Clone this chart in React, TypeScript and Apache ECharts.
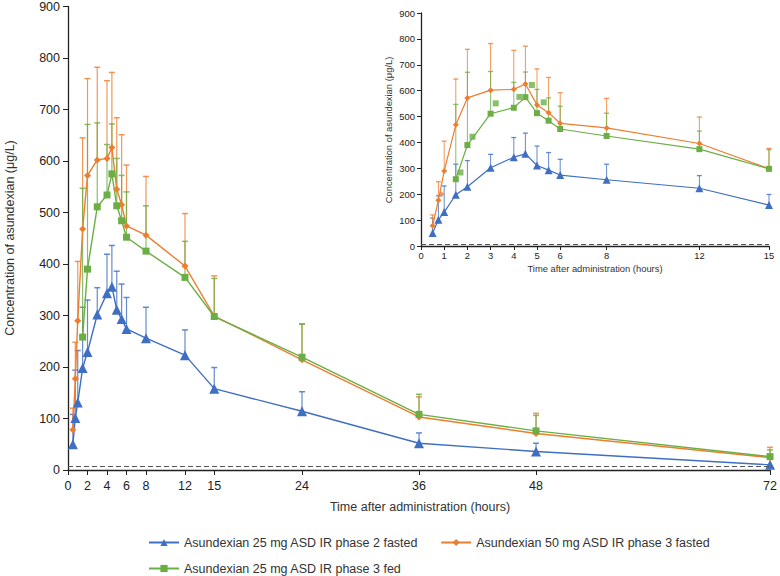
import React, { useEffect, useRef } from "react";
import * as echarts from "echarts";

const FONT = '"Liberation Sans", Arial, Helvetica, sans-serif';

const BLUE_NAME = "Asundexian 25 mg ASD IR phase 2 fasted";
const ORANGE_NAME = "Asundexian 50 mg ASD IR phase 3 fasted";
const GREEN_NAME = "Asundexian 25 mg ASD IR phase 3 fed";

const times = [0.5, 0.75, 1, 1.5, 2, 3, 4, 4.5, 5, 5.5, 6, 8, 12, 15, 24, 36, 48, 72];
const blueMean = [50, 101, 131, 198, 229, 302, 343, 356, 311, 293, 274, 256, 223, 158, 114, 52, 36, 10];
const blueUpper = [108, 194, 232, 316, 330, 354, 419, 436, 386, 361, 335, 316, 272, 199, 152, 72, 52, null];
const orangeMean = [78, 177, 290, 468, 572, 602, 605, 626, 545, 515, 474, 456, 396, 299, 214, 103, 71, 24];
const orangeUpper = [120, 248, 405, 645, 760, 782, 756, 772, 684, 651, 592, 570, 498, 377, 284, 142, 110, 44];

const greenTimes = [1.5, 2, 3, 4, 4.5, 5, 5.5, 6, 8, 12, 15, 24, 36, 48, 72];
const greenMean = [258, 390, 511, 534, 575, 513, 484, 452, 425, 374, 298, 219, 108, 76, 26];
const greenUpper = [547, 671, 674, 632, 672, 605, 572, 540, 513, 444, 372, 283, 147, 106, 39];

// stray markers visible only in the inset
const greenExtraTimes = [1.7, 2.22, 3.22, 4.24, 4.78, 5.29];
const greenExtraValues = [284, 422, 551, 576, 622, 555];
const orangeExtraTimes = [0.88];
const orangeExtraValues = [200];

const LLOQ = 7;

const mainXTicks = [0, 2, 4, 6, 8, 12, 15, 24, 36, 48, 72];
const insetXTicks = [0, 1, 2, 3, 4, 5, 6, 8, 12, 15];

const C_BLUE = "#3F6FC2";
const C_ORANGE = "#EE7D2E";
const C_GREEN = "#6BAE45";

function pairs(ts: number[], vs: (number | null)[], maxT: number) {
  const out: any[] = [];
  ts.forEach((t, i) => {
    if (t <= maxT && vs[i] != null) out.push([t, vs[i]]);
  });
  return out;
}
function triples(ts: number[], m: number[], u: (number | null)[], maxT: number) {
  const out: any[] = [];
  ts.forEach((t, i) => {
    if (t <= maxT && u[i] != null) out.push([t, m[i], u[i]]);
  });
  return out;
}

function errSeries(name: string, color: string, data: any[], idx: number, cap: number, lw: number) {
  return {
    type: "custom",
    name: name + " err",
    xAxisIndex: idx,
    yAxisIndex: idx,
    z: 2,
    silent: true,
    encode: { x: 0, y: [1, 2] },
    data,
    renderItem: (params: any, api: any) => {
      const p0 = api.coord([api.value(0), api.value(1)]);
      const p1 = api.coord([api.value(0), api.value(2)]);
      return {
        type: "group",
        children: [
          { type: "line", shape: { x1: p0[0], y1: p0[1], x2: p1[0], y2: p1[1] }, style: { stroke: color, lineWidth: lw, opacity: 0.8 } },
          { type: "line", shape: { x1: p1[0] - cap, y1: p1[1], x2: p1[0] + cap, y2: p1[1] }, style: { stroke: color, lineWidth: lw + 0.3, opacity: 0.8 } },
        ],
      };
    },
  };
}

function lineSeries(name: string, color: string, symbol: string, size: number, data: any[], idx: number, lw: number, withLloq: boolean) {
  const s: any = {
    type: "line",
    name,
    xAxisIndex: idx,
    yAxisIndex: idx,
    z: 3,
    data,
    symbol,
    symbolSize: size,
    showAllSymbol: true,
    lineStyle: { color, width: lw },
    itemStyle: { color },
  };
  if (withLloq) {
    s.markLine = {
      silent: true,
      symbol: "none",
      label: { show: false },
      lineStyle: { type: [5, 3], color: "#555", width: 1.1 },
      data: [{ yAxis: LLOQ }],
    };
  }
  return s;
}

export default function App() {
  const ref = useRef<HTMLDivElement>(null);
  useEffect(() => {
    if (!ref.current) return;
    const chart = echarts.init(ref.current, undefined, { renderer: "svg" });

    const axisCommon = (fs: number) => ({
      axisLine: { show: true, lineStyle: { color: "#222", width: 1.3 } },
      splitLine: { show: false },
      axisLabel: { color: "#222", fontSize: fs, fontFamily: FONT },
    });

    const series: any[] = [];
    // main chart
    series.push(errSeries(BLUE_NAME, C_BLUE, triples(times, blueMean, blueUpper, 100), 0, 3, 1.2));
    series.push(errSeries(ORANGE_NAME, C_ORANGE, triples(times, orangeMean, orangeUpper, 100), 0, 3, 1.2));
    series.push(errSeries(GREEN_NAME, C_GREEN, triples(greenTimes, greenMean, greenUpper, 100), 0, 3, 1.2));
    series.push(lineSeries(BLUE_NAME, C_BLUE, "triangle", 10, pairs(times, blueMean, 100), 0, 1.4, true));
    series.push(lineSeries(ORANGE_NAME, C_ORANGE, "diamond", 7, pairs(times, orangeMean, 100), 0, 1.4, false));
    series.push(lineSeries(GREEN_NAME, C_GREEN, "rect", 7, pairs(greenTimes, greenMean, 100), 0, 1.4, false));
    // inset
    series.push(errSeries(BLUE_NAME, C_BLUE, triples(times, blueMean, blueUpper, 15), 1, 2.5, 1));
    series.push(errSeries(ORANGE_NAME, C_ORANGE, triples(times, orangeMean, orangeUpper, 15), 1, 2.5, 1));
    series.push(errSeries(GREEN_NAME, C_GREEN, triples(greenTimes, greenMean, greenUpper, 15), 1, 2.5, 1));
    series.push(lineSeries(BLUE_NAME, C_BLUE, "triangle", 8, pairs(times, blueMean, 15), 1, 1.2, true));
    series.push(lineSeries(ORANGE_NAME, C_ORANGE, "diamond", 6, pairs(times, orangeMean, 15), 1, 1.2, false));
    series.push(lineSeries(GREEN_NAME, C_GREEN, "rect", 6, pairs(greenTimes, greenMean, 15), 1, 1.2, false));
    series.push({
      type: "scatter", name: "fed-extra", xAxisIndex: 1, yAxisIndex: 1, z: 3,
      symbol: "rect", symbolSize: 6, itemStyle: { color: C_GREEN },
      data: pairs(greenExtraTimes, greenExtraValues, 15),
    });
    series.push({
      type: "scatter", name: "fasted-extra", xAxisIndex: 1, yAxisIndex: 1, z: 3,
      symbol: "diamond", symbolSize: 6, itemStyle: { color: C_ORANGE },
      data: pairs(orangeExtraTimes, orangeExtraValues, 15),
    });

    const legendText = { fontSize: 12.5, color: "#333", fontFamily: FONT };

    chart.setOption({
      animation: false,
      textStyle: { fontFamily: FONT },
      grid: [
        { left: 68, right: 8, top: 6, bottom: 106 },
        { left: 421, right: 11, top: 13, bottom: 330 },
      ],
      xAxis: [
        {
          gridIndex: 0, type: "value", min: 0, max: 72,
          ...axisCommon(12.5),
          axisTick: { show: true, customValues: mainXTicks, length: 5, lineStyle: { color: "#222" } },
          axisLabel: { color: "#222", fontSize: 12.5, fontFamily: FONT, customValues: mainXTicks, margin: 9 },
        },
        {
          gridIndex: 1, type: "value", min: 0, max: 15,
          ...axisCommon(9.4),
          axisTick: { show: true, customValues: insetXTicks, length: 4, lineStyle: { color: "#222" } },
          axisLabel: { color: "#222", fontSize: 9.4, fontFamily: FONT, customValues: insetXTicks, margin: 5 },
        },
      ],
      yAxis: [
        {
          gridIndex: 0, type: "value", min: 0, max: 900, interval: 100,
          ...axisCommon(12.5),
          axisTick: { show: true, length: 5, lineStyle: { color: "#222" } },
          axisLabel: { color: "#222", fontSize: 12.5, fontFamily: FONT, margin: 8 },
        },
        {
          gridIndex: 1, type: "value", min: 0, max: 900, interval: 100,
          ...axisCommon(9.4),
          axisTick: { show: true, length: 4, lineStyle: { color: "#222" } },
          axisLabel: { color: "#222", fontSize: 9.4, fontFamily: FONT, margin: 6 },
        },
      ],
      legend: [
        {
          data: [BLUE_NAME, ORANGE_NAME], left: 143, top: 531, orient: "horizontal",
          itemWidth: 30, itemHeight: 9, itemGap: 22, textStyle: legendText,
        },
        {
          data: [GREEN_NAME], left: 143, top: 557,
          itemWidth: 30, itemHeight: 9, textStyle: legendText,
        },
      ],
      graphic: [
        { type: "text", x: 10, y: 238, rotation: Math.PI / 2, style: { text: "Concentration of asundexian (μg/L)", fontSize: 12.5, fontFamily: FONT, fill: "#333", align: "center", verticalAlign: "middle" } },
        { type: "text", x: 420, y: 507, style: { text: "Time after administration (hours)", fontSize: 12.5, fontFamily: FONT, fill: "#333", align: "center", verticalAlign: "middle" } },
        { type: "text", x: 388, y: 130, rotation: Math.PI / 2, style: { text: "Concentration of asundexian (μg/L)", fontSize: 9.4, fontFamily: FONT, fill: "#333", align: "center", verticalAlign: "middle" } },
        { type: "text", x: 595, y: 268, style: { text: "Time after administration (hours)", fontSize: 9.4, fontFamily: FONT, fill: "#333", align: "center", verticalAlign: "middle" } },
      ],
      series,
    });
    return () => chart.dispose();
  }, []);
  return <div ref={ref} style={{ width: 780, height: 576, position: "absolute", left: 0, top: 0, background: "#fff" }} />;
}
